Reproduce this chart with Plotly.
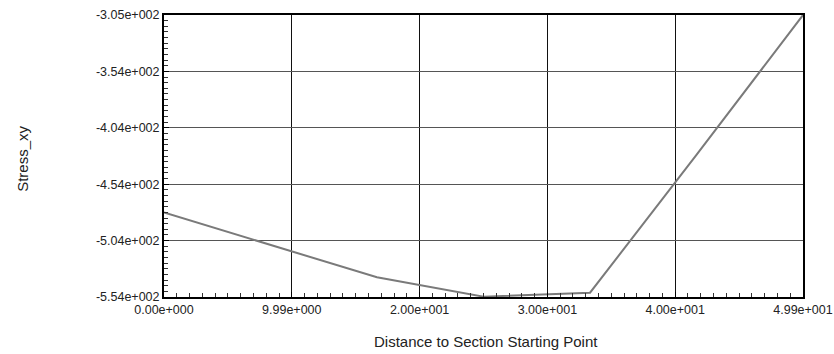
import numpy as np
import plotly.graph_objects as go

# Stress along the section path (distance in model units, stress_xy)
x_dist = [0.0, 8.32, 16.63, 24.95, 33.27, 41.58, 49.9]
stress_xy = [-479.4, -508.0, -536.6, -553.7, -550.2, -428.6, -305.0]

x_range = [0.0, 49.9]
y_range = [-554.0, -305.0]

x_tick_labels = ["0.00e+000", "9.99e+000", "2.00e+001", "3.00e+001", "4.00e+001", "4.99e+001"]
y_tick_labels = ["-5.54e+002", "-5.04e+002", "-4.54e+002", "-4.04e+002", "-3.54e+002", "-3.05e+002"]

x_major = np.linspace(x_range[0], x_range[1], len(x_tick_labels))
y_major = np.linspace(y_range[0], y_range[1], len(y_tick_labels))
x_minor = np.linspace(x_range[0], x_range[1], 10 * (len(x_tick_labels) - 1) + 1)
y_minor = np.linspace(y_range[0], y_range[1], 10 * (len(y_tick_labels) - 1) + 1)

font_family = "Liberation Sans, Arial, sans-serif"
text_color = "#222222"

fig = go.Figure()
fig.add_trace(go.Scatter(
    x=x_dist, y=stress_xy, mode="lines",
    line=dict(color="#7a7a7a", width=2),
    showlegend=False, hoverinfo="skip",
))

fig.update_layout(
    width=834, height=354,
    margin=dict(l=164, r=31, t=15, b=57),
    paper_bgcolor="white", plot_bgcolor="white",
    font=dict(family=font_family, size=12.5, color=text_color),
    xaxis=dict(
        range=x_range, tickmode="array", tickvals=x_major, ticktext=x_tick_labels,
        showgrid=True, gridcolor="#111111", gridwidth=1,
        showline=True, linecolor="black", linewidth=2, mirror=True,
        ticks="inside", ticklen=5, tickcolor="black",
        minor=dict(tickmode="array", tickvals=x_minor, ticks="inside",
                   ticklen=4, tickcolor="#333333", showgrid=False),
        zeroline=False, automargin=False,
        tickfont=dict(size=12.5, color=text_color),
    ),
    yaxis=dict(
        range=y_range, tickmode="array", tickvals=y_major, ticktext=y_tick_labels,
        showgrid=True, gridcolor="#555555", gridwidth=1,
        showline=True, linecolor="black", linewidth=2, mirror=True,
        ticks="inside", ticklen=5, tickcolor="black",
        minor=dict(tickmode="array", tickvals=y_minor, ticks="inside",
                   ticklen=4, tickcolor="#333333", showgrid=False),
        zeroline=False, automargin=False,
        tickfont=dict(size=12.5, color=text_color),
    ),
    annotations=[
        dict(text="Distance to Section Starting Point", xref="paper", yref="paper",
             x=0.504, y=0, yshift=-44, xanchor="center", yanchor="middle",
             showarrow=False, font=dict(size=15, color=text_color)),
        dict(text="Stress_xy", xref="paper", yref="paper",
             x=0, xshift=-141, y=0.49, xanchor="center", yanchor="middle",
             textangle=-90, showarrow=False, font=dict(size=15, color=text_color)),
    ],
)

fig.write_html("out.html")
